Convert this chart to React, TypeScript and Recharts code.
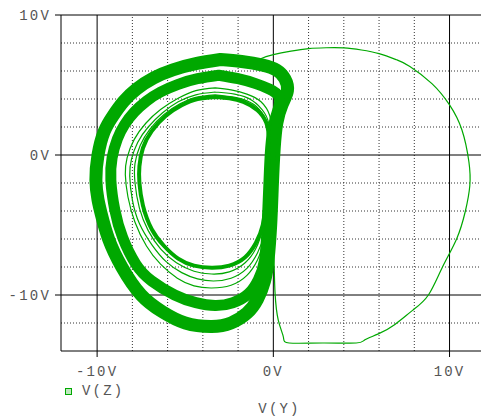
import { LineChart, Line, XAxis, YAxis, ReferenceLine, Legend } from "recharts"

// V(Y) / V(Z) phase portrait, values in volts
const xTicks = [-10, 0, 10]
const yTicks = [-10, 0, 10]
const xDotted = [-8, -6, -4, -2, 2, 4, 6, 8]
const yDotted = [-12, -8, -6, -4, -2, 2, 4, 6, 8]

type Pt = [number, number]

// start-up transient, big arc on the right
const transient: Pt[] = [
  [-1.5, 6.3], [-0.75, 6.86], [0, 7.17], [1, 7.42], [2, 7.6], [3, 7.66], [4, 7.65], [5, 7.5],
  [6, 7.24], [7, 6.8], [7.75, 6.33], [9, 5.1], [10, 3.58], [10.7, 1.8], [11.1, -0.5],
  [11.15, -2.2], [10.9, -4.0], [10.4, -6.0], [9.6, -8.0], [8.8, -10.0], [7.9, -11.1],
  [6.9, -12.1], [5.96, -12.78], [5.2, -13.2], [4.7, -13.43], [2.8, -13.43], [0.9, -13.43],
  [0.57, -13.0], [0.28, -11.8], [0.1, -9.9], [0.05, -8], [0, -6],
]

// outermost band
const outerLoop: Pt[] = [
  [-3.0, 6.82], [-4.4, 6.52], [-5.7, 6.08], [-6.8, 5.5], [-7.75, 4.72], [-8.5, 3.82],
  [-9.1, 2.8], [-9.6, 1.67], [-9.95, 0], [-10.07, -1.8], [-9.95, -3.2], [-9.75, -4.3],
  [-9.35, -6], [-8.6, -8], [-7.5, -10], [-6.3, -11.2], [-5.0, -12.0], [-3.5, -12.25],
  [-2.4, -12.0], [-1.5, -11.3], [-0.9, -10.3], [-0.5, -9.0], [-0.3, -7.5], [-0.15, -5],
  [-0.05, -2], [0.05, 0.5], [0.2, 2.3], [0.5, 3.6], [0.8, 4.6], [0.65, 5.45], [0.2, 6.05],
  [-0.6, 6.42], [-1.8, 6.68], [-3.0, 6.82],
]

// second band
const middleLoop: Pt[] = [
  [-3.1, 5.7], [-4.3, 5.45], [-5.4, 5.05], [-6.4, 4.5], [-7.2, 3.85], [-7.9, 3.05],
  [-8.45, 2.15], [-8.85, 1.15], [-9.15, -0.2], [-9.22, -1.8], [-9.0, -3.9], [-8.55, -5.9],
  [-7.8, -7.8], [-6.9, -9.0], [-5.6, -10.0], [-4.4, -10.55], [-3.3, -10.75], [-2.3, -10.55],
  [-1.4, -9.9], [-0.85, -8.9], [-0.5, -7.5], [-0.35, -5], [-0.25, -2], [-0.15, 0.5],
  [0.05, 2.3], [0.3, 3.4], [0.3, 4.2], [-0.2, 4.7], [-1.0, 5.1], [-2.0, 5.45], [-3.1, 5.7],
]

// thin loops between the second and the inner band
const thinLoop1: Pt[] = [
  [-3.3, 4.8], [-4.4, 4.6], [-5.4, 4.05], [-6.4, 3.25], [-7.25, 2.25], [-7.9, 1.1],
  [-8.3, -0.2], [-8.4, -1.4], [-8.25, -3], [-7.85, -4.8], [-7.2, -6.5], [-6.4, -7.8],
  [-5.45, -8.8], [-4.5, -9.35], [-3.5, -9.5], [-2.4, -9.3], [-1.5, -8.6], [-0.9, -7.5],
  [-0.55, -6], [-0.35, -3.5], [-0.25, -1], [-0.15, 1.5], [-0.2, 2.8], [-0.7, 3.8],
  [-1.5, 4.35], [-2.4, 4.65], [-3.3, 4.8],
]

const thinLoop2: Pt[] = [
  [-3.3, 4.5], [-4.4, 4.3], [-5.4, 3.8], [-6.3, 3.0], [-7.1, 2.0], [-7.7, 0.9],
  [-8.05, -0.3], [-8.15, -1.5], [-8.0, -3.2], [-7.6, -4.9], [-6.9, -6.4], [-6.1, -7.6],
  [-5.2, -8.4], [-4.3, -8.85], [-3.4, -9.0], [-2.4, -8.8], [-1.5, -8.1], [-0.9, -7.0],
  [-0.5, -5.5], [-0.3, -3], [-0.2, -0.5], [-0.2, 1.8], [-0.5, 3.0], [-1.2, 3.9],
  [-2.2, 4.35], [-3.3, 4.5],
]

const thinLoop3: Pt[] = [
  [-3.3, 4.3], [-4.4, 4.12], [-5.3, 3.65], [-6.2, 2.9], [-7.0, 1.85], [-7.55, 0.7],
  [-7.85, -0.6], [-7.85, -2], [-7.6, -3.8], [-7.1, -5.4], [-6.4, -6.7], [-5.5, -7.7],
  [-4.5, -8.3], [-3.5, -8.5], [-2.5, -8.35], [-1.6, -7.7], [-1.0, -6.7], [-0.6, -5.2],
  [-0.35, -3], [-0.25, -0.8], [-0.25, 1.5], [-0.5, 2.7], [-1.1, 3.6], [-2.1, 4.1],
  [-3.3, 4.3],
]

// innermost band
const innerLoop: Pt[] = [
  [-3.3, 4.15], [-4.3, 4.0], [-5.2, 3.55], [-6.1, 2.8], [-6.9, 1.7], [-7.4, 0.5],
  [-7.6, -0.8], [-7.6, -2], [-7.4, -3.6], [-6.9, -5.3], [-6.2, -6.5], [-5.4, -7.4],
  [-4.5, -7.9], [-3.5, -8.05], [-2.5, -7.9], [-1.6, -7.3], [-1.0, -6.3], [-0.6, -5],
  [-0.4, -3], [-0.3, -1], [-0.25, 1], [-0.4, 2.3], [-0.9, 3.2], [-1.7, 3.8],
  [-2.5, 4.05], [-3.3, 4.15],
]

const GREEN = "#00a800"
const FONT = "'Liberation Mono', 'DejaVu Sans Mono', monospace"
const tickStyle = { fontFamily: FONT, fontSize: 14, fill: "#555", letterSpacing: 2.2 }

const toRows = (pts: Pt[]) => pts.map(([x, y]) => ({ x, y }))

const series = [
  { name: "outer", pts: outerLoop, width: 13 },
  { name: "middle", pts: middleLoop, width: 11 },
  { name: "thin1", pts: thinLoop1, width: 1.2 },
  { name: "thin2", pts: thinLoop2, width: 1.2 },
  { name: "thin3", pts: thinLoop3, width: 1.2 },
  { name: "inner", pts: innerLoop, width: 4 },
  { name: "transient", pts: transient, width: 1.2 },
]

const volts = (v: number) => `${v}V`

function LegendBox() {
  return (
    <div style={{ display: "flex", alignItems: "center", height: 16, fontFamily: FONT, fontSize: 14, color: "#555", letterSpacing: 2.2 }}>
      <span style={{ width: 5, height: 5, border: `1px solid ${GREEN}`, background: "#bfe8bf", marginRight: 10 }} />
      <span>V(Z)</span>
    </div>
  )
}

export default function App() {
  return (
    <div style={{ position: "absolute", left: 8, top: 8, width: 473, height: 409, overflow: "hidden" }}>
      <LineChart width={490} height={409} margin={{ top: 7, right: 0, left: 0, bottom: 0 }}>
        <XAxis
          type="number"
          dataKey="x"
          domain={[-12.05, 12.75]}
          ticks={xTicks}
          interval={0}
          allowDataOverflow
          tickFormatter={volts}
          height={50}
          tickSize={6}
          tickMargin={9}
          stroke="#000"
          tick={tickStyle}
          label={{ value: "V(Y)", position: "insideBottom", offset: -12, style: { ...tickStyle, textAnchor: "middle" } }}
        />
        <YAxis
          type="number"
          dataKey="y"
          domain={[-14, 10]}
          ticks={yTicks}
          interval={0}
          allowDataOverflow
          tickFormatter={volts}
          width={53}
          tickSize={6}
          tickMargin={4}
          stroke="#000"
          tick={tickStyle}
        />
        {xDotted.map((v) => (
          <ReferenceLine key={`vx${v}`} x={v} stroke="#333" strokeDasharray="1 2" />
        ))}
        {yDotted.map((v) => (
          <ReferenceLine key={`hy${v}`} y={v} stroke="#333" strokeDasharray="1 2" />
        ))}
        {xTicks.map((v) => (
          <ReferenceLine key={`sx${v}`} x={v} stroke="#000" />
        ))}
        {yTicks.map((v) => (
          <ReferenceLine key={`sy${v}`} y={v} stroke="#000" />
        ))}
        {series.map((s) => (
          <Line
            key={s.name}
            data={toRows(s.pts)}
            dataKey="y"
            type="natural"
            stroke={GREEN}
            strokeWidth={s.width}
            strokeLinejoin="round"
            strokeLinecap="round"
            dot={false}
            activeDot={false}
            isAnimationActive={false}
            legendType="none"
          />
        ))}
        <Legend
          content={() => <LegendBox />}
          wrapperStyle={{ position: "absolute", left: 57, top: 375, width: "auto", height: 16 }}
        />
      </LineChart>
    </div>
  )
}
